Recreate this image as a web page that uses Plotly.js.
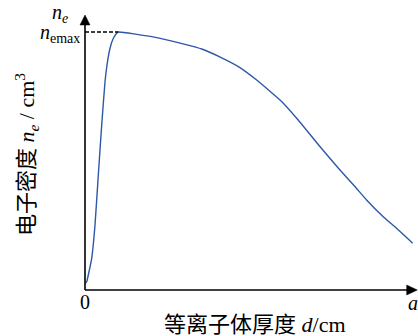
<!DOCTYPE html>
<html>
<head>
<meta charset="utf-8">
<script src="https://cdn.plot.ly/plotly-3.0.1.min.js"></script>
<style>html,body{margin:0;padding:0;background:#fff;}#chart{width:418px;height:336px;}</style>
</head>
<body>
<div id="chart"></div>
<script>
// thickness d (as % of a) and relative electron density n_e / n_emax
const thickness = [0, 0.52, 1.07, 2.05, 3.06, 4.07, 5.11, 6.12, 6.73, 7.65, 8.56, 9.69, 10.18, 20.4, 30.6, 35.7, 41.8, 46.9, 52.5, 60.2, 65.2, 71.9, 77.5, 82.6, 86.1, 91.2, 95.3, 100.2];
const density   = [0.025, 0.032, 0.062, 0.123, 0.252, 0.446, 0.640, 0.807, 0.872, 0.937, 0.973, 0.995, 1.0, 0.982, 0.952, 0.934, 0.900, 0.866, 0.814, 0.730, 0.659, 0.555, 0.472, 0.400, 0.349, 0.284, 0.239, 0.181];
const peakX = 10.18, peakY = 1.0;
const xTickLabels = ['0', '<i>a</i>'];

const serif = '"Liberation Serif", "Times New Roman", "Noto Sans CJK SC", serif';
const W = 418, H = 336, L = 85, R = 0, T = 15, B = 46;
const xMax = (W - L - R) / 327 * 100;
const yMax = (H - T - B) / 258;

const trace = {
  x: thickness, y: density, type: 'scatter', mode: 'lines',
  line: {color: '#2d58a8', width: 1.4, shape: 'spline', smoothing: 0.4},
  hoverinfo: 'skip', cliponaxis: false
};

const ax = {showgrid: false, zeroline: false, showline: false, showticklabels: false, ticks: '', fixedrange: true};

const shapes = [
  {type: 'line', xref: 'paper', yref: 'paper', x0: 0, y0: 0, x1: 0.97, y1: 0, line: {color: '#000', width: 1.6}},
  {type: 'path', xref: 'paper', yref: 'paper', path: 'M 0.966 -0.018 L 0.998 0 L 0.966 0.018 Z', fillcolor: '#000', line: {color: '#000', width: 0.5}},
  {type: 'line', xref: 'paper', yref: 'paper', x0: 0, y0: 0, x1: 0, y1: 0.965, line: {color: '#000', width: 1.6}},
  {type: 'path', xref: 'paper', yref: 'paper', path: 'M -0.015 0.9636 L 0 1.0 L 0.015 0.9636 Z', fillcolor: '#000', line: {color: '#000', width: 0.5}},
  {type: 'line', xref: 'x', yref: 'y', x0: 0, y0: peakY, x1: peakX, y1: peakY, line: {color: '#000', width: 1.6, dash: '4px,2px'}}
];

const annotations = [
  {x: 0, y: -0.044, text: xTickLabels[0], xanchor: 'center', yanchor: 'middle'},
  {x: 0.985, y: -0.047, text: xTickLabels[1], xanchor: 'center', yanchor: 'middle'},
  {x: -0.075, y: 1.007, text: '<i>n<sub>e</sub></i>', xanchor: 'center', yanchor: 'middle'},
  {x: -0.009, y: 0.9345, text: '<i>n</i><sub>emax</sub>', xanchor: 'right', yanchor: 'middle'},
  {x: -0.174, y: 0.491, text: '电子密度 <i>n<sub>e</sub></i> / cm<sup>3</sup>', textangle: -90, xanchor: 'center', yanchor: 'middle', font: {family: serif, size: 22, color: '#000'}},
  {x: 0.5105, y: -0.127, text: '等离子体厚度 <i>d</i>/cm', xanchor: 'center', yanchor: 'middle', font: {family: serif, size: 22, color: '#000'}}
].map(a => Object.assign({xref: 'paper', yref: 'paper', showarrow: false, font: {family: serif, size: 20, color: '#000'}}, a));

const layout = {
  width: W, height: H,
  margin: {l: L, r: R, t: T, b: B, pad: 0},
  paper_bgcolor: '#fff', plot_bgcolor: '#fff',
  showlegend: false,
  xaxis: Object.assign({range: [0, xMax]}, ax),
  yaxis: Object.assign({range: [0, yMax]}, ax),
  shapes: shapes,
  annotations: annotations
};

Plotly.newPlot('chart', [trace], layout, {displayModeBar: false, staticPlot: true});
</script>
</body>
</html>
